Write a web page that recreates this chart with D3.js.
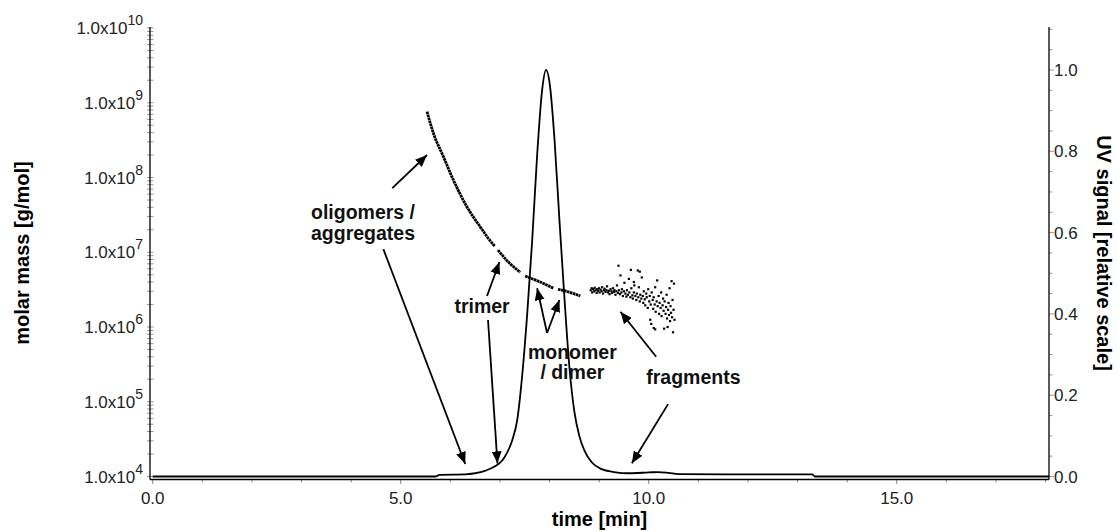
<!DOCTYPE html>
<html>
<head>
<meta charset="utf-8">
<script src="https://cdn.jsdelivr.net/npm/d3@7"></script>
<style>
  body { margin: 0; background: #fff; }
  svg { display: block; font-family: "Liberation Sans", Arial, sans-serif; }
</style>
</head>
<body>
<div id="chart"></div>
<script>

// UV trace: time [min] / relative signal
var uvTime   = [0.00, 5.70, 5.78, 6.30, 6.50, 6.70, 6.90, 7.05, 7.15, 7.25, 7.35, 7.45, 7.55, 7.65, 7.75, 7.85, 7.93,
                8.01, 8.10, 8.20, 8.30, 8.40, 8.50, 8.60, 8.70, 8.85, 9.05, 9.30, 9.60, 10.00, 10.20, 10.40, 10.60, 12.00, 13.30, 13.35, 18.07];
var uvSignal = [0.000, 0.000, 0.004, 0.005, 0.008, 0.014, 0.025, 0.040, 0.060, 0.090, 0.140, 0.250, 0.400, 0.580, 0.790, 0.950, 1.000,
                0.960, 0.830, 0.630, 0.440, 0.270, 0.160, 0.100, 0.065, 0.035, 0.018, 0.011, 0.008, 0.010, 0.011, 0.009, 0.006, 0.005, 0.005, 0.000, 0.000];

// molar mass [g/mol], dense part (four runs of points)
var massRuns = [
  [[5.53, 7.6e8], [5.66, 3.9e8], [5.86, 1.9e8], [6.06, 9.3e7], [6.33, 4.1e7], [6.60, 2.2e7], [6.87, 1.26e7], [6.90, 1.2e7]],
  [[6.96, 1.07e7], [7.17, 7.4e6], [7.41, 5.4e6]],
  [[7.51, 4.8e6], [7.81, 4.0e6], [8.08, 3.3e6]],
  [[8.17, 3.2e6], [8.38, 2.95e6], [8.62, 2.6e6]]
];

// molar mass of the fragment region (scattered points)
var fragTime = [8.83, 8.85, 8.86, 8.88, 8.90, 8.91, 8.93, 8.95, 8.96, 8.98, 9.00, 9.01, 9.03, 9.05, 9.06, 9.08, 9.10, 9.11, 9.13, 9.15,
                9.16, 9.18, 9.20, 9.21, 9.23, 9.25, 9.26, 9.28, 9.30, 9.31, 9.33, 9.35, 9.36, 9.38, 9.39, 9.40, 9.42, 9.43, 9.45, 9.46,
                9.48, 9.50, 9.51, 9.53, 9.55, 9.56, 9.58, 9.60, 9.61, 9.63, 9.64, 9.65, 9.67, 9.68, 9.70, 9.70, 9.71, 9.73, 9.75, 9.76,
                9.78, 9.79, 9.80, 9.82, 9.82, 9.83, 9.85, 9.86, 9.88, 9.89, 9.90, 9.92, 9.93, 9.95, 9.96, 9.98, 9.99, 10.01, 10.02, 10.03,
                10.04, 10.05, 10.06, 10.08, 10.09, 10.10, 10.10, 10.12, 10.13, 10.13, 10.14, 10.16, 10.17, 10.18, 10.20, 10.21, 10.22, 10.24, 10.25, 10.26,
                10.28, 10.29, 10.30, 10.31, 10.32, 10.34, 10.35, 10.36, 10.37, 10.38, 10.39, 10.40, 10.41, 10.42, 10.43, 10.44, 10.45, 10.46, 10.47, 10.48,
                10.49, 10.50, 10.51, 10.52];
var fragMass = [3.1e6, 3.3e6, 2.9e6, 3.2e6, 3.0e6, 3.35e6, 3.1e6, 2.85e6, 3.2e6, 3.05e6, 3.3e6, 2.9e6, 3.15e6, 3.0e6, 3.4e6, 2.8e6, 3.1e6, 3.25e6, 2.95e6, 3.1e6,
                3.5e6, 2.9e6, 3.05e6, 2.75e6, 3.2e6, 3.0e6, 2.85e6, 3.3e6, 2.95e6, 3.1e6, 2.7e6, 3.0e6, 3.6e6, 2.85e6, 6.6e6, 3.1e6, 2.75e6, 4.9e6, 2.9e6, 3.2e6,
                2.6e6, 3.0e6, 3.9e6, 2.8e6, 2.55e6, 3.1e6, 2.7e6, 4.4e6, 2.9e6, 2.5e6, 5.8e6, 3.3e6, 2.65e6, 2.4e6, 2.9e6, 4.0e6, 3.6e6, 2.6e6, 2.3e6, 2.8e6,
                5.7e6, 2.5e6, 3.4e6, 2.2e6, 5.5e6, 2.7e6, 2.4e6, 4.6e6, 2.6e6, 2.1e6, 3.0e6, 2.35e6, 1.95e6, 2.8e6, 2.5e6, 1.8e6, 3.2e6, 2.2e6, 2.6e6, 1.25e6,
                2.0e6, 1.1e6, 2.9e6, 2.3e6, 1.75e6, 2.5e6, 9.7e5, 2.0e6, 3.4e6, 9.3e5, 1.6e6, 2.2e6, 4.2e6, 1.9e6, 2.6e6, 1.5e6, 2.1e6, 1.8e6, 2.9e6, 1.4e6,
                1.95e6, 2.4e6, 1.65e6, 9.5e5, 2.2e6, 1.5e6, 1.85e6, 2.7e6, 1.3e6, 1.0e6, 1.7e6, 2.1e6, 1.45e6, 3.3e6, 1.2e6, 1.9e6, 1.55e6, 4.1e6, 1.35e6, 2.3e6,
                8.5e5, 1.7e6, 3.8e6, 1.25e6];

// annotations, in data units (time, molar mass)
var annLabels = [
  {text: 'oligomers /', t: 4.24, m: 2.8e7},
  {text: 'aggregates',  t: 4.24, m: 1.46e7},
  {text: 'trimer',      t: 6.64, m: 1.54e6},
  {text: 'monomer',     t: 8.46, m: 3.7e5},
  {text: '/ dimer',     t: 8.46, m: 2.0e5},
  {text: 'fragments',   t: 10.90, m: 1.73e5}
];
var annArrows = [
  [[4.83, 7.2e7],  [5.53, 2.0e8]],
  [[4.65, 1.1e7],  [6.30, 1.47e4]],
  [[6.74, 2.6e6],  [6.99, 7.4e6]],
  [[6.76, 1.24e6], [6.95, 1.5e4]],
  [[7.95, 8.3e5],  [7.75, 3.3e6]],
  [[7.95, 8.3e5],  [8.20, 2.3e6]],
  [[10.15, 4.0e5], [9.43, 1.6e6]],
  [[10.39, 9.3e4], [9.66, 1.5e4]]
];

var xTitle = 'time [min]',
    yLeftTitle = 'molar mass [g/mol]',
    yRightTitle = 'UV signal [relative scale]';


var widthCont = 1117,
    heightCont = 532;

// plot frame
var pL = 150, pR = 1049, pT = 27, pB = 479.5;

var svg = d3.select('#chart').append('svg')
  .attr('width', widthCont)
  .attr('height', heightCont);

var x = d3.scaleLinear().domain([-0.055, 18.07]).range([pL, pR]);
var yMass = d3.scaleLog().domain([1e4, 1e10]).range([476.5, 28]);
var yUV = d3.scaleLinear().domain([0, 1]).range([476.5, 70]);

// arrow head
svg.append('defs').append('marker')
  .attr('id', 'head')
  .attr('markerUnits', 'userSpaceOnUse')
  .attr('markerWidth', 13).attr('markerHeight', 10)
  .attr('refX', 12).attr('refY', 5)
  .attr('orient', 'auto')
  .append('path')
  .attr('d', 'M0,0 L12,5 L0,10 Z')
  .attr('fill', '#000');

// x axis
var gx = svg.append('g');
x.ticks(18).forEach(function(t){
  var major = t % 5 === 0;
  gx.append('line')
    .attr('x1', x(t)).attr('x2', x(t))
    .attr('y1', pB).attr('y2', pB + (major ? 4.5 : 3))
    .attr('stroke', '#888').attr('stroke-width', 1);
  if( major ){
    gx.append('text')
      .attr('x', x(t)).attr('y', 504)
      .attr('text-anchor', 'middle')
      .attr('font-size', 17)
      .attr('fill', '#222')
      .text(d3.format('.1f')(t));
  }
});
gx.append('line')
  .attr('x1', pL).attr('x2', pR)
  .attr('y1', pB).attr('y2', pB)
  .attr('stroke', '#000').attr('stroke-width', 1.3);

// left axis (log)
var gl = svg.append('g');
yMass.ticks().forEach(function(m){
  var e = Math.round(Math.log10(m));
  var major = Math.abs(Math.log10(m) - e) < 1e-9;
  gl.append('line')
    .attr('x1', pL - 3).attr('x2', pL + 3.5)
    .attr('y1', yMass(m)).attr('y2', yMass(m))
    .attr('stroke', '#999').attr('stroke-width', 1);
  if( major ){
    var txt = gl.append('text')
      .attr('x', 143).attr('y', yMass(m) + 6)
      .attr('text-anchor', 'end')
      .attr('fill', '#222');
    txt.append('tspan').attr('font-size', 17).text('1.0x10');
    txt.append('tspan').attr('font-size', 14).attr('dy', -9).text(e);
  }
});
gl.append('line')
  .attr('x1', pL).attr('x2', pL)
  .attr('y1', pT).attr('y2', pB)
  .attr('stroke', '#000').attr('stroke-width', 1.3);

// right axis (UV)
var gr = svg.append('g');
var uvTicks = d3.scaleLinear().domain([0, yUV.invert(pT)]).ticks(22);
uvTicks.forEach(function(v){
  var major = Math.abs(v * 5 - Math.round(v * 5)) < 1e-6;
  gr.append('line')
    .attr('x1', pR).attr('x2', pR + (major ? 5 : 3.5))
    .attr('y1', yUV(v)).attr('y2', yUV(v))
    .attr('stroke', '#999').attr('stroke-width', 1);
  if( major ){
    gr.append('text')
      .attr('x', pR + 5).attr('y', yUV(v) + 6)
      .attr('font-size', 17)
      .attr('fill', '#222')
      .text(d3.format('.1f')(v));
  }
});
gr.append('line')
  .attr('x1', pR).attr('x2', pR)
  .attr('y1', pT).attr('y2', pB)
  .attr('stroke', '#000').attr('stroke-width', 1.3);

// axis titles
svg.append('text')
  .attr('x', (pL + pR) / 2).attr('y', 526)
  .attr('text-anchor', 'middle')
  .attr('font-size', 20).attr('font-weight', 'bold')
  .text(xTitle);

svg.append('text')
  .attr('transform', 'translate(29,253) rotate(-90)')
  .attr('text-anchor', 'middle')
  .attr('font-size', 20).attr('font-weight', 'bold')
  .text(yLeftTitle);

svg.append('text')
  .attr('transform', 'translate(1097,253) rotate(90)')
  .attr('text-anchor', 'middle')
  .attr('font-size', 20).attr('font-weight', 'bold')
  .text(yRightTitle);

// UV trace
var uvLine = d3.line()
  .x(function(d,i){ return x(uvTime[i]); })
  .y(function(d){ return yUV(d); })
  .curve(d3.curveMonotoneX);

svg.append('path')
  .attr('d', uvLine(uvSignal))
  .attr('fill', 'none')
  .attr('stroke', '#000')
  .attr('stroke-width', 1.8);

// molar mass runs
var massLine = d3.line()
  .x(function(d){ return x(d[0]); })
  .y(function(d){ return yMass(d[1]); })
  .curve(d3.curveMonotoneX);

svg.append('g').selectAll('path')
  .data(massRuns)
  .enter().append('path')
  .attr('d', massLine)
  .attr('fill', 'none')
  .attr('stroke', '#000')
  .attr('stroke-width', 2.8)
  .attr('stroke-dasharray', '2.6,0.5');

// fragment points
svg.append('g').selectAll('rect')
  .data(fragMass)
  .enter().append('rect')
  .attr('x', function(d,i){ return x(fragTime[i]) - 1.1; })
  .attr('y', function(d){ return yMass(d) - 1.1; })
  .attr('width', 2.2).attr('height', 2.2)
  .attr('fill', '#000');

// annotations
svg.append('g').selectAll('line')
  .data(annArrows)
  .enter().append('line')
  .attr('x1', function(d){ return x(d[0][0]); })
  .attr('y1', function(d){ return yMass(d[0][1]); })
  .attr('x2', function(d){ return x(d[1][0]); })
  .attr('y2', function(d){ return yMass(d[1][1]); })
  .attr('stroke', '#000')
  .attr('stroke-width', 1.8)
  .attr('marker-end', 'url(#head)');

svg.append('g').selectAll('text')
  .data(annLabels)
  .enter().append('text')
  .attr('x', function(d){ return x(d.t); })
  .attr('y', function(d){ return yMass(d.m); })
  .attr('text-anchor', 'middle')
  .attr('font-size', 19.5)
  .attr('font-weight', 'bold')
  .attr('fill', '#111')
  .text(function(d){ return d.text; });

</script>
</body>
</html>
